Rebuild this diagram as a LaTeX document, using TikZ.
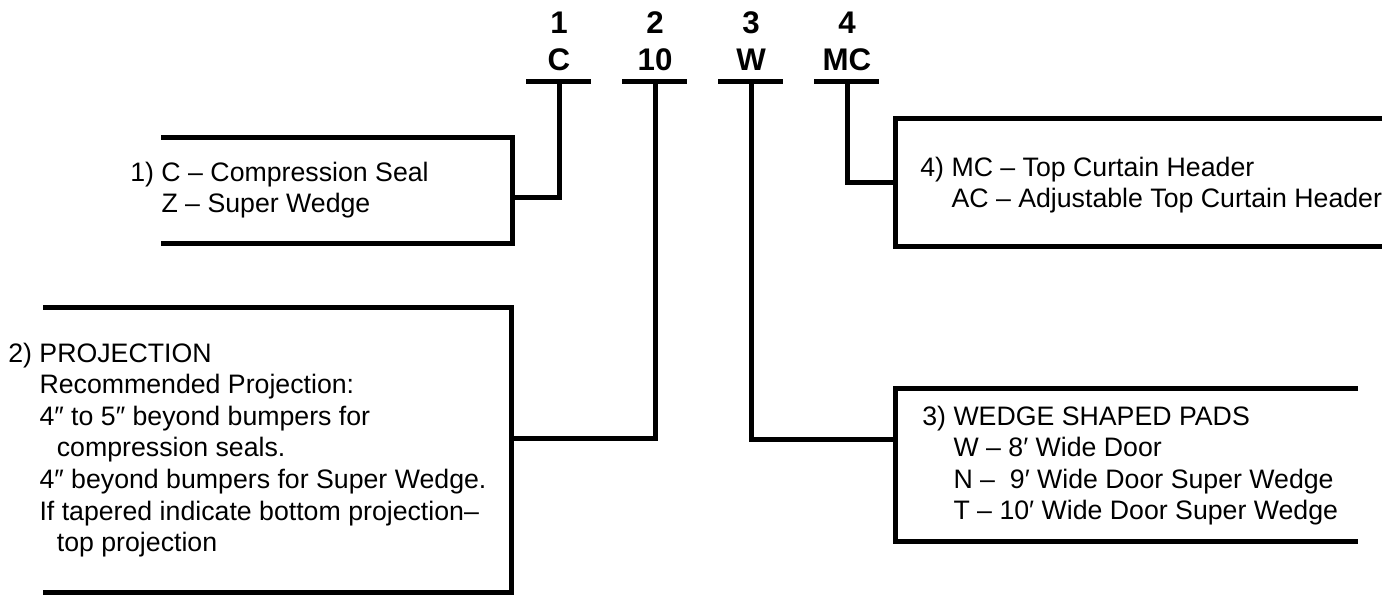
\documentclass[tikz,border=0pt]{standalone}
\usepackage{fontspec}
\setmainfont{Liberation Sans}
\usetikzlibrary{calc}
\begin{document}
\begin{tikzpicture}[x = 0.02cm, y = -0.02cm,
  wire/.style={line width=2.85pt},
  code/.style={font=\fontsize{17.8}{20}\selectfont\bfseries, anchor=base, inner sep=0pt},
  note/.style={font=\fontsize{15.2}{18}\selectfont, anchor=base west, inner sep=0pt}]
\useasboundingbox (0, 0) rectangle (1398, 596);

% model number
\draw (559, 33) node[code] (n1) {1};
\draw (655, 33) node[code] (n2) {2};
\draw (751, 33) node[code] (n3) {3};
\draw (847, 33) node[code] (n4) {4};
\draw (559, 70) node[code] (c1) {C};
\draw (655, 70) node[code] (c2) {10};
\draw (751, 70) node[code] (c3) {W};
\draw (847, 70) node[code] (c4) {MC};

\coordinate (t1) at (559, 81);
\coordinate (t2) at (655, 81);
\coordinate (t3) at (751, 81);
\coordinate (t4) at (847, 81);
\foreach \t in {t1, t2, t3, t4}
  \draw[wire] ($(\t) + (-33, 0)$) -- ($(\t) + (32, 0)$);

% box 1
\draw[wire] (161, 137) -| (512, 243) -- (161, 243);
\coordinate (p1) at (512, 197);
\draw[wire] (t1) |- (p1);
\draw (130, 181) node[note] (box1) {\begin{tabular}[t]{@{}l@{\ }l@{}}
1) & C – Compression Seal\\
   & Z – Super Wedge
\end{tabular}};

% box 2
\draw[wire] (43, 307) -| (511, 592) -- (43, 592);
\coordinate (p2) at (511, 438);
\draw[wire] (t2) |- (p2);
\draw (8, 362) node[note] (box2) {\begin{tabular}[t]{@{}l@{\ }l@{}}
2) & PROJECTION\\
   & Recommended Projection:\\
   & 4″ to 5″ beyond bumpers for\\
   & \hspace{0.65em}compression seals.\\
   & 4″ beyond bumpers for Super Wedge.\\
   & If tapered indicate bottom projection–\\
   & \hspace{0.65em}top projection
\end{tabular}};

% box 3
\draw[wire] (1358, 388) -| (895, 541) -- (1358, 541);
\coordinate (p3) at (895, 439);
\draw[wire] (t3) |- (p3);
\draw (922, 425) node[note] (box3) {\begin{tabular}[t]{@{}l@{\ }l@{}}
3) & WEDGE SHAPED PADS\\
   & W – 8′ Wide Door\\
   & N – \ 9′ Wide Door Super Wedge\\
   & T – 10′ Wide Door Super Wedge
\end{tabular}};

% box 4
\draw[wire] (1382, 118) -| (895, 246) -- (1382, 246);
\coordinate (p4) at (895, 182);
\draw[wire] (t4) |- (p4);
\draw (920, 176) node[note] (box4) {\begin{tabular}[t]{@{}l@{\ }l@{}}
4) & MC – Top Curtain Header\\
   & AC – Adjustable Top Curtain Header
\end{tabular}};

\end{tikzpicture}
\end{document}
